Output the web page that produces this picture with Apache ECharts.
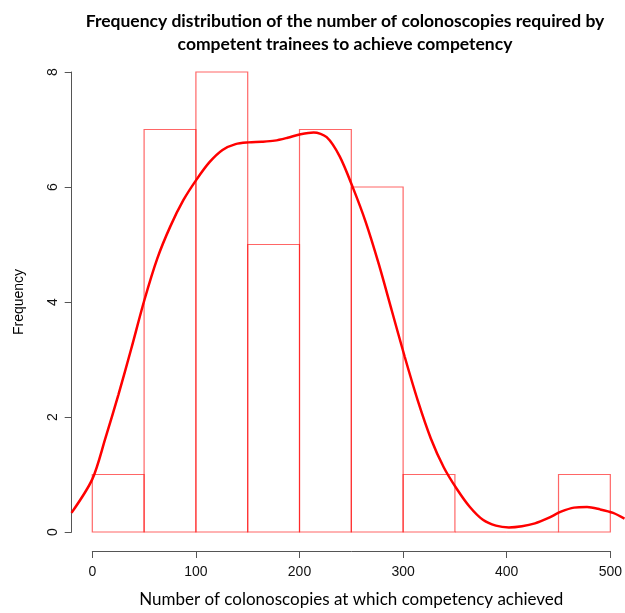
<!DOCTYPE html>
<html>
<head>
<meta charset="utf-8">
<script src="https://cdn.jsdelivr.net/npm/echarts@6/dist/echarts.min.js"></script>
<style>html,body{margin:0;padding:0;background:#fff}#c{width:625px;height:613px}</style>
</head>
<body>
<div id="c"></div>
<script>
// Histogram bins (lower edge, upper edge) and counts
const binStarts = [0, 50, 100, 150, 200, 250, 300, 350, 400, 450];
const binEnds   = [50, 100, 150, 200, 250, 300, 350, 400, 450, 500];
const counts    = [1, 7, 8, 5, 7, 6, 1, 0, 0, 1];
// Density curve (scaled to frequency)
const curveX = [-20, 0, 12.5, 25, 37.5, 50, 62.5, 75, 87.5, 100, 112.5, 125, 137.5, 150, 162.5, 175, 187.5, 200, 212.5, 225, 237.5, 250, 262.5, 275, 287.5, 300, 312.5, 325, 337.5, 350, 362.5, 375, 387.5, 400, 412.5, 425, 437.5, 450, 462.5, 475, 487.5, 500, 511];
const curveY = [0.42, 1.0, 1.7, 2.45, 3.25, 4.08, 4.8, 5.35, 5.8, 6.15, 6.45, 6.66, 6.76, 6.79, 6.8, 6.82, 6.87, 6.93, 6.96, 6.88, 6.55, 6.02, 5.42, 4.7, 3.9, 3.1, 2.35, 1.7, 1.2, 0.83, 0.52, 0.3, 0.2, 0.17, 0.19, 0.24, 0.33, 0.44, 0.51, 0.52, 0.48, 0.42, 0.32];
const xTicks = [0, 100, 200, 300, 400, 500];
const yTicks = [0, 2, 4, 6, 8];

const histData = binStarts.map((s, i) => [s, binEnds[i], counts[i]]);
const curveData = curveX.map((x, i) => [x, curveY[i]]);

const chart = echarts.init(document.getElementById('c'), null, {renderer: 'canvas'});
chart.setOption({
  backgroundColor: '#ffffff',
  animation: false,
  title: {
    text: 'Frequency distribution of the number of colonoscopies required by\ncompetent trainees to achieve competency',
    left: 340, top: 5, textAlign: 'center',
    textStyle: {fontFamily: 'Lato', fontWeight: 'bold', fontSize: 17.5, lineHeight: 23, color: '#000'}
  },
  grid: [
    {left: 92.3, right: 12.7, top: 72, bottom: 75.7},
    {left: 71.5, right: 0.46, top: 72, bottom: 75.7}
  ],
  xAxis: [
    {
      type: 'value', gridIndex: 0, min: xTicks[0], max: xTicks[xTicks.length - 1], interval: 100,
      offset: 19,
      name: 'Number of colonoscopies at which competency achieved',
      nameLocation: 'middle', nameGap: 40,
      nameTextStyle: {fontFamily: 'Lato', fontSize: 17, color: '#000'},
      axisLine: {show: true, onZero: false, lineStyle: {color: '#555', width: 1}},
      axisTick: {show: true, length: 7, lineStyle: {color: '#555'}},
      axisLabel: {margin: 14, fontFamily: 'Liberation Sans', fontSize: 14, color: '#111', showMaxLabel: true, showMinLabel: true},
      splitLine: {show: false}
    },
    {type: 'value', gridIndex: 1, min: -20, max: 511, show: false, splitLine: {show: false}}
  ],
  yAxis: [
    {
      type: 'value', gridIndex: 0, min: yTicks[0], max: yTicks[yTicks.length - 1], interval: 2,
      offset: 20.6,
      name: 'Frequency',
      nameLocation: 'middle', nameGap: 46, nameRotate: 90,
      nameTextStyle: {fontFamily: 'Liberation Sans', fontSize: 14, color: '#000'},
      axisLine: {show: true, onZero: false, lineStyle: {color: '#555', width: 1}},
      axisTick: {show: true, length: 7, lineStyle: {color: '#555'}},
      axisLabel: {margin: 12, rotate: 90, fontFamily: 'Liberation Sans', fontSize: 14, color: '#111', showMaxLabel: true, showMinLabel: true},
      splitLine: {show: false}
    },
    {type: 'value', gridIndex: 1, min: 0, max: 8, show: false, splitLine: {show: false}}
  ],
  series: [
    {
      type: 'custom',
      name: 'Frequency',
      xAxisIndex: 0, yAxisIndex: 0,
      data: histData,
      clip: false,
      renderItem: function (params, api) {
        const p0 = api.coord([api.value(0), 0]);
        const p1 = api.coord([api.value(1), api.value(2)]);
        return {
          type: 'rect',
          shape: {x: p0[0], y: p1[1], width: p1[0] - p0[0], height: p0[1] - p1[1]},
          style: {fill: 'none', stroke: 'rgba(255,0,0,0.6)', lineWidth: 1.2}
        };
      }
    },
    {
      type: 'line',
      name: 'Density',
      xAxisIndex: 1, yAxisIndex: 1,
      data: curveData,
      smooth: 0.3,
      showSymbol: false,
      lineStyle: {color: '#ff0000', width: 2.5}
    }
  ]
});
</script>
</body>
</html>
